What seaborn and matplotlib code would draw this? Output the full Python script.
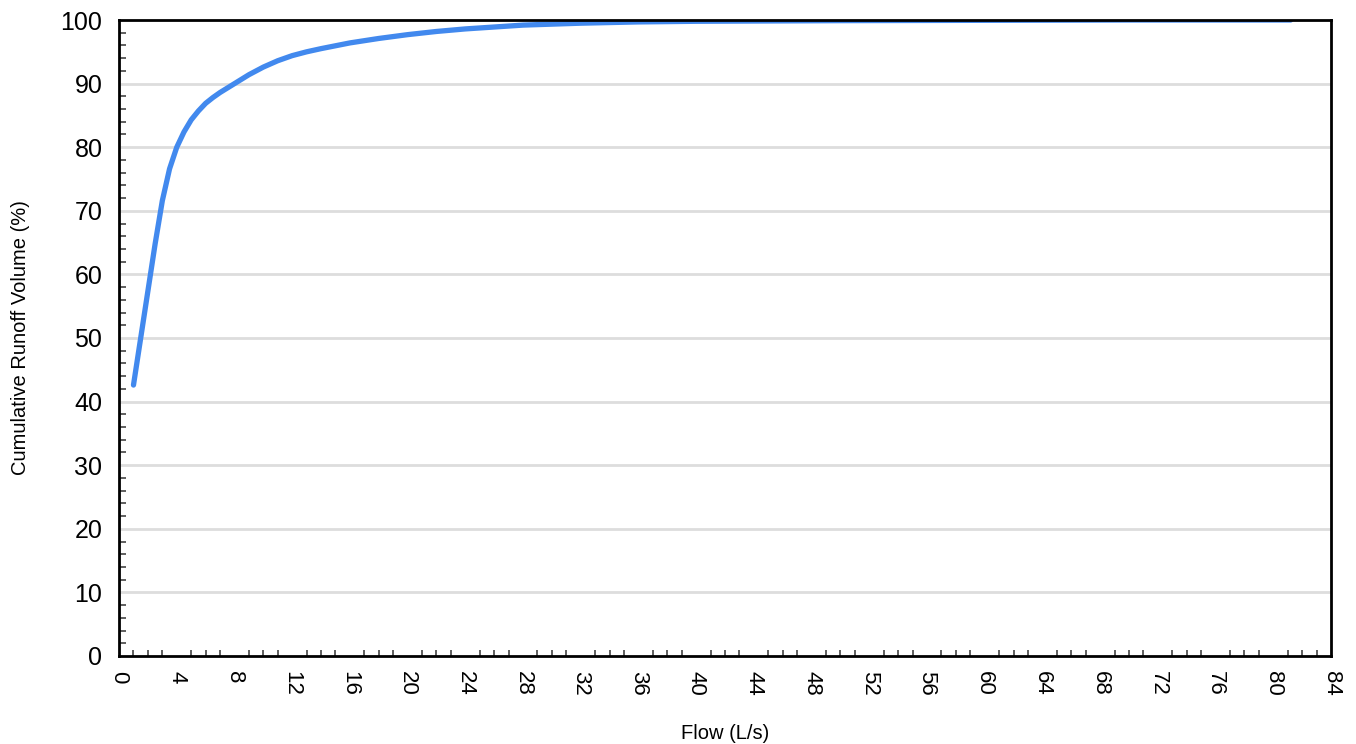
import matplotlib
matplotlib.use("Agg")
import matplotlib.pyplot as plt
from matplotlib.ticker import MultipleLocator
import seaborn as sns
import pandas as pd

# flow (L/s) vs cumulative runoff volume (%)
flow = [1.0, 1.5, 2.0, 2.5, 3.0, 3.5, 4.0, 4.5, 5.0, 5.5, 6.0, 6.5, 7.0, 8.0,
        9.0, 10.0, 11.0, 12.0, 13.0, 14.0, 16.0, 18.0, 20.0, 22.0, 24.0, 26.0,
        28.0, 32.0, 36.0, 40.0, 50.0, 60.0, 70.0, 81.2]
volume = [42.6, 50.0, 57.4, 64.8, 71.6, 76.6, 80.0, 82.4, 84.3, 85.7, 86.9,
          87.8, 88.6, 90.0, 91.4, 92.6, 93.6, 94.4, 95.0, 95.5, 96.4, 97.1,
          97.7, 98.2, 98.6, 98.9, 99.2, 99.5, 99.7, 99.8, 99.9, 99.95, 100.0,
          100.0]

x_ticks = list(range(0, 85, 4))
y_ticks = list(range(0, 101, 10))

df = pd.DataFrame({"Flow (L/s)": flow, "Cumulative Runoff Volume (%)": volume})

sns.set_style("white")
plt.rcParams["font.family"] = ["Liberation Sans", "DejaVu Sans"]
plt.rcParams["text.color"] = "black"
plt.rcParams["axes.labelcolor"] = "black"

fig = plt.figure(figsize=(13.56, 7.44), dpi=100)
ax = fig.add_axes([0.0878, 0.1183, 0.8938, 0.8548])

for y in y_ticks[1:-1]:
    ax.axhline(y, color="#dddddd", lw=2, zorder=0)

sns.lineplot(data=df, x="Flow (L/s)", y="Cumulative Runoff Volume (%)", ax=ax,
             color="#4289ee", lw=3.8, solid_capstyle="round", solid_joinstyle="round")

ax.set_xlim(0, 84)
ax.set_ylim(0, 100)
ax.set_xticks(x_ticks)
ax.set_yticks(y_ticks)
ax.xaxis.set_minor_locator(MultipleLocator(1))
ax.yaxis.set_minor_locator(MultipleLocator(2))

ax.tick_params(axis="y", which="major", direction="out", length=9, width=1.2,
               color="#444444", labelsize=18, pad=3, labelcolor="black")
ax.tick_params(axis="y", which="minor", direction="in", length=5, width=1.2,
               color="#444444", left=True)
ax.tick_params(axis="x", which="major", direction="out", length=5, width=1.2,
               color="#444444", labelsize=16, pad=6, labelrotation=-90,
               labelcolor="black")
ax.tick_params(axis="x", which="minor", direction="in", length=4, width=1.2,
               color="#444444", bottom=True)

for s in ax.spines.values():
    s.set_visible(True)
    s.set_color("black")
    s.set_linewidth(2)

ax.set_xlabel("Flow (L/s)", fontsize=14.5, labelpad=20)
ax.set_ylabel("Cumulative Runoff Volume (%)", fontsize=14.5, labelpad=22)

fig.savefig("out.png", dpi=100)
